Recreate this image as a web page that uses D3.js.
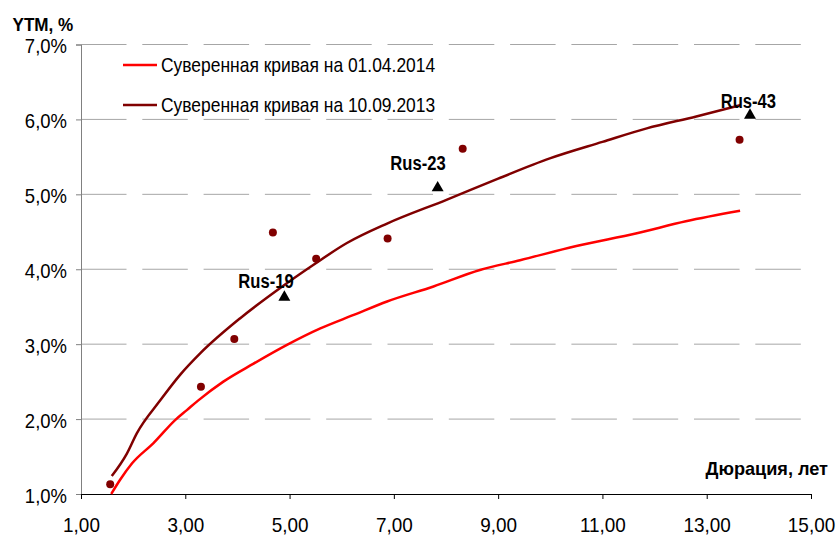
<!DOCTYPE html>
<html>
<head>
<meta charset="utf-8">
<script src="https://cdn.jsdelivr.net/npm/d3@7"></script>
<style>
  body { margin: 0; background: #fff; }
  svg { display: block; font-family: "Liberation Sans", Arial, sans-serif; }
</style>
</head>
<body>
<svg id="chart"></svg>
<script>
// sovereign curve on 01.04.2014 (duration, years / yield, %)
const curve2014X = [1.58, 1.75, 1.98, 2.39, 2.81, 3.03, 3.25, 3.73, 4.31, 4.95, 5.59, 6.23, 6.87, 7.76, 8.65, 9.42, 10.5, 11.66, 12.6, 13.64];
const curve2014Y = [1.00, 1.19, 1.41, 1.68, 1.99, 2.12, 2.25, 2.50, 2.74, 2.99, 3.21, 3.39, 3.57, 3.77, 3.99, 4.12, 4.31, 4.48, 4.64, 4.78];

// sovereign curve on 10.09.2013
const curve2013X = [1.59, 1.88, 2.07, 2.52, 2.90, 3.29, 4.06, 4.82, 5.46, 6.10, 6.87, 8.02, 9.00, 9.99, 11.0, 11.85, 12.8, 13.64];
const curve2013Y = [1.24, 1.54, 1.81, 2.25, 2.59, 2.88, 3.35, 3.75, 4.06, 4.35, 4.61, 4.93, 5.21, 5.48, 5.70, 5.88, 6.04, 6.19];

// individual bonds
const bondX = [1.56, 3.30, 3.94, 4.68, 5.51, 6.88, 8.32, 13.63];
const bondY = [1.13, 2.43, 3.07, 4.49, 4.14, 4.41, 5.61, 5.73];

// benchmark eurobonds
const benchNames = ['Rus-19', 'Rus-23', 'Rus-43'];
const benchX = [4.90, 7.84, 13.83];
const benchY = [3.64, 5.10, 6.07];

const xTicks = [1, 3, 5, 7, 9, 11, 13, 15];
const yTicks = [1, 2, 3, 4, 5, 6, 7];
const legendLabels = ['Суверенная кривая на 01.04.2014', 'Суверенная кривая на 10.09.2013'];

const config = {
  width: 839,
  height: 536,
  margin: {top: 44.5, right: 28, bottom: 42, left: 81},
  font: 21,
  red: '#ff0000',
  darkRed: '#800000',
  grid: '#a6a6a6'
};

// the original text is set a bit narrower than Liberation Sans
function squeeze(sel, k) {
  sel.each(function() {
    const w = this.getComputedTextLength();
    d3.select(this)
        .attr('textLength', w * k)
        .attr('lengthAdjust', 'spacingAndGlyphs');
  });
}

const svg = d3.select('#chart')
    .attr('width', config.width)
    .attr('height', config.height);

const plotW = config.width - config.margin.left - config.margin.right;
const plotH = config.height - config.margin.top - config.margin.bottom;

const xScale = d3.scaleLinear()
    .domain([1, 15])
    .range([config.margin.left, config.margin.left + plotW]);
const yScale = d3.scaleLinear()
    .domain([1, 7])
    .range([config.margin.top + plotH, config.margin.top]);

const fmt = d => d.toFixed(2).replace('.', ',');
const fmtPct = d => d.toFixed(1).replace('.', ',') + '%';

// dashed gridlines
svg.append('g')
    .selectAll('line')
    .data(yTicks.slice(1))
    .join('line')
    .attr('x1', xScale(1))
    .attr('x2', xScale(15))
    .attr('y1', d => yScale(d))
    .attr('y2', d => yScale(d))
    .attr('stroke', config.grid)
    .attr('stroke-width', 1)
    .attr('stroke-dasharray', '45.5,15.8');

// y axis
const yAxis = d3.axisLeft(yScale)
    .tickValues(yTicks)
    .tickSize(5)
    .tickPadding(9)
    .tickFormat(fmtPct);
const yG = svg.append('g')
    .attr('transform', `translate(${xScale(1)},0)`)
    .call(yAxis);
yG.select('.domain').attr('stroke', '#808080');
yG.selectAll('.tick line').attr('stroke', '#808080');
yG.selectAll('.tick text')
    .attr('font-size', config.font)
    .attr('fill', '#000')
    .attr('font-family', null)
    .attr('dy', 8)
    .call(squeeze, 0.88);

// x axis
const xAxis = d3.axisBottom(xScale)
    .tickValues(xTicks)
    .tickSize(5)
    .tickSizeOuter(0)
    .tickPadding(18)
    .tickFormat(fmt);
const xG = svg.append('g')
    .attr('transform', `translate(0,${yScale(1)})`)
    .call(xAxis);
xG.select('.domain').attr('stroke', '#000');
xG.selectAll('.tick line').attr('stroke', '#000');
xG.selectAll('.tick text')
    .attr('font-size', config.font)
    .attr('fill', '#000')
    .attr('font-family', null)
    .call(squeeze, 0.9);

// axis titles
svg.append('text')
    .attr('x', 12.5)
    .attr('y', 31)
    .attr('font-size', 18)
    .attr('font-weight', 'bold')
    .text('YTM, %')
    .call(squeeze, 0.95);
svg.append('text')
    .attr('x', 828)
    .attr('y', 475)
    .attr('text-anchor', 'end')
    .attr('font-size', 18.5)
    .attr('font-weight', 'bold')
    .text('Дюрация, лет')
    .call(squeeze, 0.98);

// curves
const line = d3.line()
    .x(d => xScale(d[0]))
    .y(d => yScale(d[1]))
    .curve(d3.curveMonotoneX);

const series = [
  {pts: d3.zip(curve2014X, curve2014Y), color: config.red},
  {pts: d3.zip(curve2013X, curve2013Y), color: config.darkRed}
];

svg.append('g')
    .selectAll('path')
    .data(series)
    .join('path')
    .attr('d', d => line(d.pts))
    .attr('fill', 'none')
    .attr('stroke', d => d.color)
    .attr('stroke-width', 2.5)
    .attr('stroke-linejoin', 'round');

// bond dots
svg.append('g')
    .selectAll('circle')
    .data(d3.zip(bondX, bondY))
    .join('circle')
    .attr('cx', d => xScale(d[0]))
    .attr('cy', d => yScale(d[1]))
    .attr('r', 4)
    .attr('fill', config.darkRed);

// benchmark triangles + labels
const labelOffset = [[-46, -8.7], [-47.3, -16.6], [-29.3, -6]];
const bench = svg.append('g')
    .selectAll('g')
    .data(benchNames.map((n, i) => ({name: n, x: benchX[i], y: benchY[i], off: labelOffset[i]})))
    .join('g')
    .attr('transform', d => `translate(${xScale(d.x)},${yScale(d.y)})`);
bench.append('path')
    .attr('d', d3.symbol().type(d3.symbolTriangle).size(62))
    .attr('transform', 'translate(0,1)')
    .attr('fill', '#000');
bench.append('text')
    .attr('x', d => d.off[0])
    .attr('y', d => d.off[1])
    .attr('font-size', 20)
    .attr('font-weight', 'bold')
    .text(d => d.name)
    .call(squeeze, 0.83);

// legend
const legend = svg.append('g')
    .selectAll('g')
    .data(legendLabels)
    .join('g')
    .attr('transform', (d, i) => `translate(123,${65 + i * 40})`);
legend.append('line')
    .attr('x1', 0)
    .attr('x2', 34)
    .attr('stroke', (d, i) => series[i].color)
    .attr('stroke-width', 2.5);
legend.append('text')
    .attr('x', 38)
    .attr('y', 7)
    .attr('font-size', config.font)
    .text(d => d)
    .call(squeeze, 0.83);
</script>
</body>
</html>
